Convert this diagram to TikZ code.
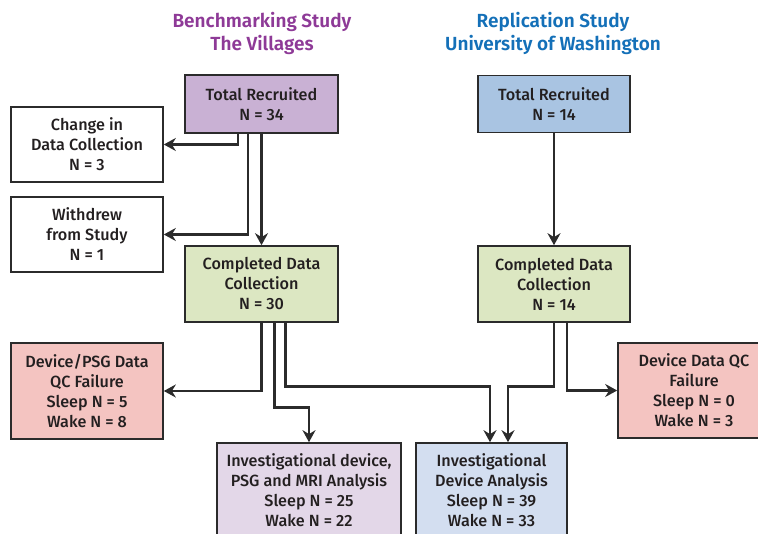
\documentclass[tikz,border=0pt]{standalone}
\usepackage{fontspec}
\IfFontExistsTF{Fira Sans SemiBold}
  {\setmainfont{Fira Sans}[UprightFont={* Medium},BoldFont={* SemiBold}]}
  {\setmainfont{Fira Sans}}
\usepackage{tikz}
\usetikzlibrary{arrows.meta,calc}

\definecolor{edge}{HTML}{2B2B2B}
\definecolor{txt}{HTML}{231F20}
\definecolor{lilac}{HTML}{C9B1D4}
\definecolor{skyblue}{HTML}{A9C4E2}
\definecolor{sage}{HTML}{DCE7C2}
\definecolor{rose}{HTML}{F4C4C1}
\definecolor{palelilac}{HTML}{E3D7E8}
\definecolor{paleblue}{HTML}{D3DEF0}
\definecolor{villages}{HTML}{8E3A97}
\definecolor{uwblue}{HTML}{1470B8}

\begin{document}
\begin{tikzpicture}[x=1pt, y=-1pt,
    box/.style={draw=edge, line width=1.6pt, align=center, inner sep=2pt,
      text=txt, font=\fontsize{16.2}{20}\selectfont},
    head/.style={align=center, inner sep=0pt, font=\fontsize{19}{23}\selectfont\bfseries},
    arr/.style={draw=edge, line width=2.8pt, -{Stealth[length=12pt,width=13pt]}}]
    \useasboundingbox (0,0) rectangle (758,534);
    \clip (0,0) rectangle (758,534);
    \node[head, villages] (hdr1) at (262,33) {Benchmarking Study\\The Villages};
    \node[head, uwblue]   (hdr2) at (553,33) {Replication Study\\University of Washington};

    \node[box, fill=lilac, minimum width=153pt, minimum height=58pt] (tr1) at (261.5,104)
      {Total Recruited\\N = 34};
    \node[box, fill=white, minimum width=152pt, minimum height=75pt] (chg) at (87,144.5)
      {Change in\\Data Collection\\N = 3};
    \node[box, fill=white, minimum width=152pt, minimum height=75pt] (wd) at (87,234.5)
      {Withdrew\\from Study\\N = 1};
    \node[box, fill=sage, minimum width=153pt, minimum height=76pt] (cd1) at (261.5,284)
      {Completed Data\\Collection\\N = 30};
    \node[box, fill=rose, minimum width=152pt, minimum height=96pt] (qc1) at (87,391)
      {Device/PSG Data\\QC Failure\\Sleep N = 5\\Wake N = 8};
    \node[box, fill=palelilac, minimum width=184pt, minimum height=94pt] (ia1) at (309,490)
      {Investigational device,\\PSG and MRI Analysis\\Sleep N = 25\\Wake N = 22};

    \node[box, fill=skyblue, minimum width=152pt, minimum height=57pt] (tr2) at (554,104)
      {Total Recruited\\N = 14};
    \node[box, fill=sage, minimum width=152pt, minimum height=76pt] (cd2) at (554,284)
      {Completed Data\\Collection\\N = 14};
    \node[box, fill=rose, minimum width=152pt, minimum height=95pt] (qc2) at (694,390.5)
      {Device Data QC\\Failure\\Sleep N = 0\\Wake N = 3};
    \node[box, fill=paleblue, minimum width=151pt, minimum height=94pt] (ida) at (491.5,490)
      {Investigational\\Device Analysis\\Sleep N = 39\\Wake N = 33};

    \draw[arr] ([xshift=-23.5pt]tr1.south) |- (chg.east);
    \draw[arr] ([xshift=-13.5pt]tr1.south) |- (wd.east);
    \draw[arr] (tr1.south) -- (cd1.north);
    \draw[arr] (cd1.south) |- (qc1.east);
    \draw[arr] ([xshift=13pt]cd1.south) -- ++(0,85) -| (ia1.north);
    \draw[arr] ([xshift=24pt]cd1.south) -- ++(0,64) -| ([xshift=-1.5pt]ida.north);
    \draw[arr] (tr2.south) -- (cd2.north);
    \draw[arr] (cd2.south) -- ++(0,64) -| ([xshift=16.5pt]ida.north);
    \draw[arr] ([xshift=13pt]cd2.south) |- (qc2.west);
\end{tikzpicture}
\end{document}
